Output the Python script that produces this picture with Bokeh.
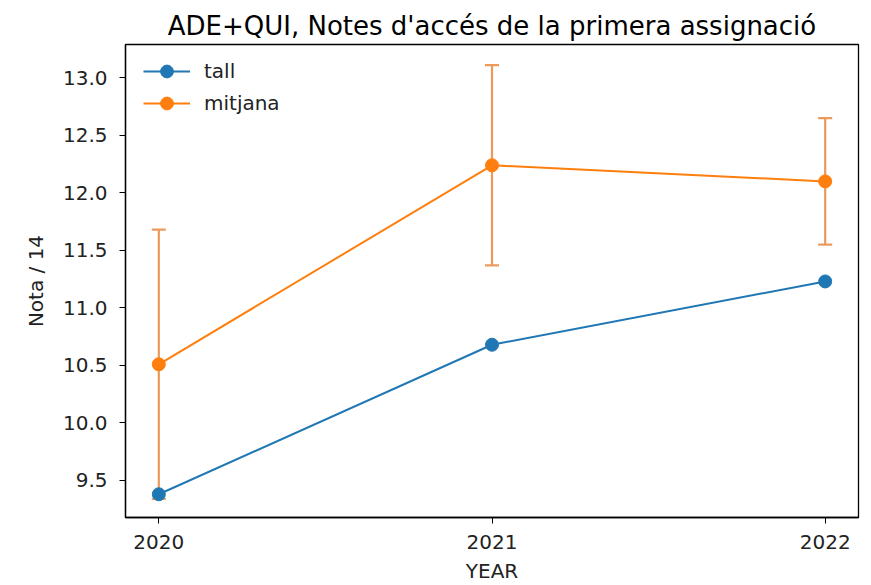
from bokeh.plotting import figure
from bokeh.models import (Range1d, FixedTicker, PrintfTickFormatter, Legend, LegendItem,
                          ColumnDataSource, Whisker, TeeHead)
from bokeh.embed import file_html
from bokeh.resources import INLINE

years = [2020, 2021, 2022]
tall = [9.38, 10.68, 11.23]
mitjana = [10.51, 12.24, 12.10]
err = [1.17, 0.87, 0.55]
y_ticks = [9.5, 10.0, 10.5, 11.0, 11.5, 12.0, 12.5, 13.0]

BLUE = "#1f77b4"
ORANGE = "#ff7f0e"
ERR_COLOR = "#eb9a5c"
FONT = "DejaVu Sans"

lower = [m - e for m, e in zip(mitjana, err)]
upper = [m + e for m, e in zip(mitjana, err)]
src = ColumnDataSource(dict(x=years, tall=tall, m=mitjana, lo=lower, hi=upper))

p = figure(output_backend="svg", toolbar_location=None,
           width=871, height=585,
           min_border_left=125, min_border_right=13, min_border_top=44, min_border_bottom=67,
           x_range=Range1d(2019.9, 2022.1), y_range=Range1d(9.178, 13.29),
           title="ADE+QUI, Notes d'accés de la primera assignació")

p.title.text_font = FONT
p.title.text_font_size = "26px"
p.title.text_font_style = "normal"
p.title.align = "center"
p.title.text_color = "#000000"
p.title.standoff = 8

p.xgrid.visible = False
p.ygrid.visible = False
p.outline_line_color = "black"
p.outline_line_width = 1.3

for ax in (p.xaxis[0], p.yaxis[0]):
    ax.axis_line_color = "black"
    ax.axis_line_width = 1.3
    ax.major_tick_line_color = "black"
    ax.major_tick_out = 6
    ax.major_tick_in = 0
    ax.minor_tick_out = 0
    ax.minor_tick_in = 0
    ax.major_label_text_font = FONT
    ax.major_label_text_font_size = "20px"
    ax.major_label_text_color = "#222222"
    ax.axis_label_text_font = FONT
    ax.axis_label_text_font_size = "20px"
    ax.axis_label_text_font_style = "normal"
    ax.axis_label_text_color = "#222222"

p.xaxis.ticker = FixedTicker(ticks=years)
p.xaxis.axis_label = "YEAR"
p.xaxis.major_label_standoff = 11
p.xaxis.axis_label_standoff = 7

p.yaxis.ticker = FixedTicker(ticks=y_ticks)
p.yaxis.formatter = PrintfTickFormatter(format="%.1f")
p.yaxis.axis_label = "Nota / 14"
p.yaxis.major_label_standoff = 12
p.yaxis.axis_label_standoff = 12

# tall
l1 = p.line("x", "tall", source=src, line_color=BLUE, line_width=2)
s1 = p.scatter("x", "tall", source=src, size=13, fill_color=BLUE, line_color=BLUE)

# mitjana with error bars
p.add_layout(Whisker(source=src, base="x", upper="hi", lower="lo", dimension="height",
                     line_color=ERR_COLOR, line_width=2.2,
                     upper_head=TeeHead(size=14, line_color=ERR_COLOR, line_width=2.2),
                     lower_head=TeeHead(size=14, line_color=ERR_COLOR, line_width=2.2)))
l2 = p.line("x", "m", source=src, line_color=ORANGE, line_width=2)
s2 = p.scatter("x", "m", source=src, size=13, fill_color=ORANGE, line_color=ORANGE)

# legend-only glyph standing for the error bar (never visible in the plot area)
eb_src = ColumnDataSource(dict(x=[float("nan")], y=[float("nan")]))
eb = p.scatter("x", "y", source=eb_src, marker="cross", size=13,
               line_color=ERR_COLOR, line_width=2)

legend = Legend(items=[LegendItem(label="tall", renderers=[l1, s1]),
                       LegendItem(label="mitjana", renderers=[l2, eb, s2])],
                location=(8, 388), margin=0, padding=10,
                glyph_width=47, glyph_height=32, label_height=32, spacing=0,
                label_standoff=14, border_line_alpha=0, background_fill_alpha=0,
                label_text_font=FONT, label_text_font_size="20px", label_text_color="#222222")
p.add_layout(legend)

open("out.html", "w").write(file_html(p, INLINE))
